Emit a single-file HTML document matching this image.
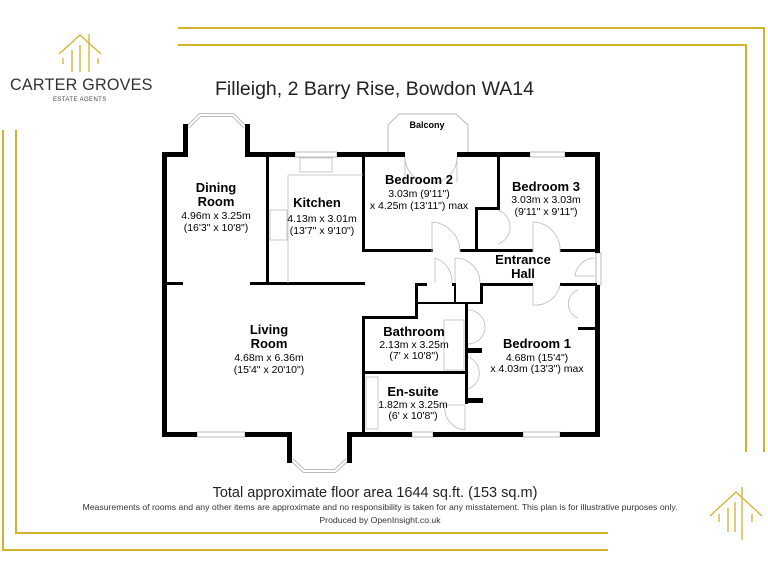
<!DOCTYPE html>
<html><head><meta charset="utf-8"><style>
html,body{margin:0;padding:0;background:#fff}
svg{display:block}
text{font-family:"Liberation Sans",sans-serif}
</style></head><body>
<svg width="768" height="576" viewBox="0 0 768 576" xmlns="http://www.w3.org/2000/svg">
<g fill="none" stroke="#d4b22a" stroke-width="2">
<polyline points="178,28 764,28 764,452"/>
<polyline points="178,45 746,45 746,452"/>
<polyline points="3,130 3,550 608,550"/>
<polyline points="16,130 16,533 608,533"/>
</g>
<g stroke="#d4b22a" stroke-width="1.3" fill="none">
<polyline points="59,54 80,35 101,54"/>
<line x1="89" y1="34" x2="89" y2="72"/><line x1="80" y1="45" x2="80" y2="72"/>
<line x1="72" y1="50" x2="72" y2="72"/><line x1="63" y1="58" x2="63" y2="64"/><line x1="98" y1="58" x2="98" y2="64"/>
</g>
<text x="10" y="90" font-size="16.2" fill="#333" letter-spacing="0.2">CARTER GROVES</text>
<text x="53" y="101" font-size="6" fill="#444" letter-spacing="0.4">ESTATE AGENTS</text>
<g stroke="#d4b22a" stroke-width="1.3" fill="none">
<polyline points="710,516 736,492 762,516"/>
<line x1="742" y1="487" x2="742" y2="540"/><line x1="735" y1="502" x2="735" y2="532"/>
<line x1="728" y1="508" x2="728" y2="532"/><line x1="719" y1="514" x2="719" y2="522"/><line x1="752" y1="514" x2="752" y2="522"/>
</g>
<text x="215" y="95" font-size="19.5" fill="#222">Filleigh, 2 Barry Rise, Bowdon WA14</text>

<g fill="none" stroke="#bbb" stroke-width="4">
<polyline points="188,127 200,115 233,115 245,127"/>
<polyline points="292,460 304,471 335,471 347,460"/>
</g>
<g fill="none" stroke="#fff" stroke-width="2">
<polyline points="188,127 200,115 233,115 245,127"/>
<polyline points="292,460 304,471 335,471 347,460"/>
</g>
<polyline points="388,152 388,125 399,114 456,114 468,125 468,152" fill="none" stroke="#bbb" stroke-width="1"/>

<g fill="#fff" stroke="#bbb" stroke-width="1">
<rect x="197" y="432" width="48" height="5"/>
<rect x="412" y="432" width="21" height="5"/>
<rect x="523" y="432" width="37" height="5"/>
<rect x="295" y="152" width="42" height="5"/>
<rect x="530" y="152" width="35" height="5"/>
<rect x="596" y="253" width="5" height="32"/>
</g>

<g fill="#000">
<rect x="162" y="152" width="5" height="285"/>
<rect x="162" y="152" width="26" height="5"/>
<rect x="183" y="124" width="5" height="33"/>
<rect x="245" y="124" width="5" height="33"/>
<rect x="245" y="152" width="50" height="5"/>
<rect x="337" y="152" width="68" height="5"/>
<rect x="457" y="152" width="73" height="5"/>
<rect x="565" y="152" width="35" height="5"/>
<rect x="595" y="152" width="5" height="101"/>
<rect x="595" y="285" width="5" height="152"/>
<rect x="162" y="432" width="35" height="5"/>
<rect x="245" y="432" width="47" height="5"/>
<rect x="287" y="432" width="5" height="31"/>
<rect x="347" y="432" width="5" height="31"/>
<rect x="347" y="432" width="65" height="5"/>
<rect x="433" y="432" width="90" height="5"/>
<rect x="560" y="432" width="40" height="5"/>
<rect x="266" y="152" width="3" height="133"/>
<rect x="162" y="282" width="21" height="3"/>
<rect x="250" y="282" width="115" height="3"/>
<rect x="362" y="152" width="3" height="100"/>
<rect x="362" y="249" width="71" height="3"/>
<rect x="460" y="249" width="73" height="3"/>
<rect x="560" y="249" width="37" height="3"/>
<rect x="497" y="152" width="3" height="57"/>
<rect x="475" y="207" width="25" height="3"/>
<rect x="475" y="207" width="3" height="45"/>
<rect x="415" y="283" width="12" height="3"/>
<rect x="452" y="283" width="3" height="3"/>
<rect x="480" y="283" width="53" height="3"/>
<rect x="560" y="283" width="37" height="3"/>
<rect x="415" y="283" width="3" height="35"/>
<rect x="454" y="283" width="2" height="21"/>
<rect x="480" y="283" width="3" height="21"/>
<rect x="415" y="302" width="68" height="2"/>
<rect x="362" y="316" width="56" height="3"/>
<rect x="362" y="316" width="3" height="121"/>
<rect x="362" y="371" width="104" height="3"/>
<rect x="465" y="304" width="3" height="100"/>
<rect x="465" y="348" width="17" height="5"/>
<rect x="465" y="398" width="18" height="5"/>
<rect x="578" y="327" width="19" height="3"/>
</g>

<g fill="none" stroke="#bbb" stroke-width="0.8">
<path d="M432,252 v-30 a30,30 0 0 1 28,30"/>
<path d="M435,283 v-25 a25,25 0 0 1 17,25"/>
<path d="M455,283 v-25 a25,25 0 0 1 25,25"/>
<path d="M533,252 v-30 a28,28 0 0 1 27,30"/>
<path d="M533,285 v20 a25,25 0 0 0 27,-20"/>
<path d="M498,210 a18,18 0 0 1 0,34"/>
<path d="M595,258 a20,20 0 0 0 -20,18 h20"/>
<path d="M578,290 a15,15 0 0 0 0,28"/>
<path d="M468,310 a17,17 0 0 1 0,34"/>
<path d="M468,357 a17,17 0 0 1 0,32"/>
<path d="M445,405 a22,22 0 0 0 20,25 v-25 z"/>
<path d="M405,157 v25 M457,157 v25 M405,157 a26,26 0 0 0 26,26 M457,157 a26,26 0 0 1 -26,26"/>
<rect x="366" y="377" width="12" height="52"/>
<rect x="444" y="320" width="20" height="50"/>
<rect x="300" y="158" width="32" height="14"/>
<line x1="288" y1="175" x2="288" y2="283"/>
<line x1="288" y1="175" x2="363" y2="175"/>
<rect x="270" y="210" width="17" height="30"/>
</g>

<g text-anchor="middle" fill="#000">
<g font-weight="bold" font-size="13">
<text x="216" y="192">Dining</text><text x="216" y="206">Room</text>
<text x="317" y="207">Kitchen</text>
<text x="419" y="184">Bedroom 2</text>
<text x="546" y="191">Bedroom 3</text>
<text x="523" y="264">Entrance</text><text x="523" y="278">Hall</text>
<text x="269" y="334">Living</text><text x="269" y="348">Room</text>
<text x="414" y="336">Bathroom</text>
<text x="537" y="348">Bedroom 1</text>
<text x="413" y="396">En-suite</text>
</g>
<g font-size="10.5">
<text x="216" y="219">4.96m x 3.25m</text><text x="216" y="231">(16'3" x 10'8")</text>
<text x="322" y="222">4.13m x 3.01m</text><text x="322" y="234">(13'7" x 9'10")</text>
<text x="419" y="197">3.03m (9'11")</text><text x="419" y="209">x 4.25m (13'11") max</text>
<text x="546" y="203">3.03m x 3.03m</text><text x="546" y="215">(9'11" x 9'11")</text>
<text x="269" y="361">4.68m x 6.36m</text><text x="269" y="373">(15'4" x 20'10")</text>
<text x="414" y="348">2.13m x 3.25m</text><text x="414" y="359">(7' x 10'8")</text>
<text x="537" y="361">4.68m (15'4")</text><text x="537" y="372">x 4.03m (13'3") max</text>
<text x="413" y="408">1.82m x 3.25m</text><text x="413" y="419">(6' x 10'8")</text>
</g>
<text x="427" y="128" font-size="9" font-weight="bold">Balcony</text>
<text x="375" y="497" font-size="14.5" fill="#222">Total approximate floor area 1644 sq.ft. (153 sq.m)</text>
<text x="380" y="510" font-size="8.7" fill="#333">Measurements of rooms and any other items are approximate and no responsibility is taken for any misstatement. This plan is for illustrative purposes only.</text>
<text x="380" y="523" font-size="8.7" fill="#333">Produced by OpenInsight.co.uk</text>
</g>
</svg>
</body></html>
